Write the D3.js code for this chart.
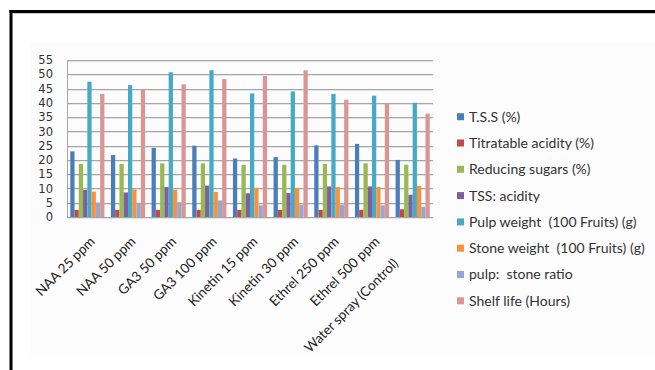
<!DOCTYPE html>
<html>
<head>
<meta charset="utf-8">
<script src="https://cdn.jsdelivr.net/npm/d3@7"></script>
<style>
  html, body { margin: 0; padding: 0; background: #ffffff; }
  svg { display: block; }
  text { white-space: pre; }
</style>
</head>
<body>
<script>
// Treatments applied to the fruit trees
const categories = ["NAA 25 ppm", "NAA 50 ppm", "GA3 50 ppm", "GA3 100 ppm", "Kinetin 15 ppm",
  "Kinetin 30 ppm", "Ethrel 250 ppm", "Ethrel 500 ppm", "Water spray (Control)"];

// Measured quality attributes (one series per attribute)
const seriesNames = ["T.S.S (%)", "Titratable acidity (%)", "Reducing sugars (%)", "TSS: acidity",
  "Pulp weight  (100 Fruits) (g)", "Stone weight  (100 Fruits) (g)", "pulp:  stone ratio", "Shelf life (Hours)"];

const tss        = [23.0, 21.7, 24.2, 25.0, 20.5, 21.0, 25.1, 25.6, 20.0];
const acidity    = [2.5, 2.5, 2.5, 2.5, 2.5, 2.5, 2.5, 2.5, 2.7];
const sugars     = [18.6, 18.6, 18.8, 18.8, 18.2, 18.3, 18.6, 18.8, 18.3];
const tssAcidity = [9.5, 8.6, 10.5, 11.0, 8.3, 8.4, 10.7, 10.7, 7.8];
const pulpWeight = [47.4, 46.2, 50.7, 51.4, 43.3, 44.0, 43.1, 42.5, 40.0];
const stoneWeight= [8.9, 9.7, 9.5, 8.8, 10.2, 10.2, 10.5, 10.5, 10.9];
const pulpStone  = [5.1, 5.0, 5.2, 5.8, 4.1, 4.3, 4.3, 4.1, 3.6];
const shelfLife  = [43.1, 44.5, 46.5, 48.3, 49.4, 51.4, 41.1, 39.6, 36.2];

const yTicks = [0, 5, 10, 15, 20, 25, 30, 35, 40, 45, 50, 55];

const seriesValues = [tss, acidity, sugars, tssAcidity, pulpWeight, stoneWeight, pulpStone, shelfLife];
const colors = ["#4a7ebb", "#be4b48", "#98b954", "#7d60a0", "#46aac5", "#f69240", "#93a9d4", "#d99694"];

const W = 655, H = 370;
const plot = { left: 67, right: 433, top: 60, bottom: 217 };

const svg = d3.select("body").append("svg").attr("width", W).attr("height", H);

// chart area background and frame
svg.append("rect").attr("x", 30).attr("y", 42).attr("width", W - 30).attr("height", 313).attr("fill", "#fcfcfc");
svg.append("line").attr("x1", 11).attr("x2", W).attr("y1", 13.5).attr("y2", 13.5)
  .attr("stroke", "#c8c8c8").attr("stroke-width", 1);
svg.append("line").attr("x1", 9.5).attr("x2", W).attr("y1", 11.5).attr("y2", 11.5)
  .attr("stroke", "#000").attr("stroke-width", 3);
svg.append("line").attr("x1", 11).attr("x2", 11).attr("y1", 10).attr("y2", H)
  .attr("stroke", "#000").attr("stroke-width", 3);

const x = d3.scaleBand().domain(categories).range([plot.left, plot.right])
  .paddingInner(0.16).paddingOuter(0.08);
const xs = d3.scaleBand().domain(d3.range(seriesNames.length)).range([0, x.bandwidth()]);
const y = d3.scaleLinear().domain([0, 55]).range([plot.bottom, plot.top]);

// horizontal gridlines
const grid = svg.append("g");
yTicks.forEach(t => {
  if (t === 0) return;
  grid.append("line").attr("x1", plot.left).attr("x2", plot.right)
    .attr("y1", Math.round(y(t)) + 1.5).attr("y2", Math.round(y(t)) + 1.5)
    .attr("stroke", "#e4e4e4").attr("stroke-width", 1);
  grid.append("line").attr("x1", plot.left).attr("x2", plot.right)
    .attr("y1", Math.round(y(t)) + 0.5).attr("y2", Math.round(y(t)) + 0.5)
    .attr("stroke", "#a6a6a6").attr("stroke-width", 1);
});

// bars
const groups = svg.append("g").selectAll("g").data(categories).join("g")
  .attr("transform", c => `translate(${x(c)},0)`);
groups.selectAll("rect").data((c, i) => seriesValues.map((s, k) => ({ k, v: s[i] }))).join("rect")
  .attr("x", d => xs(d.k))
  .attr("width", xs.bandwidth())
  .attr("y", d => y(d.v))
  .attr("height", d => y(0) - y(d.v))
  .attr("fill", d => colors[d.k]);

// axes lines
svg.append("line").attr("x1", plot.left + 0.5).attr("x2", plot.left + 0.5)
  .attr("y1", y(55)).attr("y2", y(0)).attr("stroke", "#a6a6a6");
svg.append("line").attr("x1", plot.left).attr("x2", plot.right)
  .attr("y1", Math.round(y(0)) + 0.5).attr("y2", Math.round(y(0)) + 0.5).attr("stroke", "#a6a6a6");
svg.append("line").attr("x1", plot.left).attr("x2", plot.right)
  .attr("y1", Math.round(y(0)) + 1.5).attr("y2", Math.round(y(0)) + 1.5).attr("stroke", "#e4e4e4");

// y axis labels
const yAxis = d3.axisLeft(y).tickValues(yTicks).tickSize(0).tickPadding(14);
const ya = svg.append("g").attr("transform", `translate(${plot.left},0)`).call(yAxis);
ya.select(".domain").remove();
ya.selectAll("text").attr("font-family", "DejaVu Sans").attr("font-size", 11.5).attr("fill", "#333");

// x axis labels, rotated; the long control label sits a little further down its slope
svg.append("g").selectAll("text").data(categories).join("text")
  .attr("transform", c => `translate(${x(c) + x.bandwidth() / 2 + 5},${plot.bottom + 22}) rotate(-45)`)
  .attr("text-anchor", "end").attr("dy", "0.35em")
  .attr("dx", (c, i) => i === categories.length - 1 ? -31 : 0)
  .attr("font-family", "Lato").attr("font-size", 13.5).attr("fill", "#222")
  .text(c => c);

// legend
const legend = svg.append("g").selectAll("g").data(seriesNames).join("g")
  .attr("transform", (d, i) => `translate(457,${116.7 + i * 26.3})`);
legend.append("rect").attr("x", 0).attr("y", -3.5).attr("width", 7).attr("height", 7)
  .attr("fill", (d, i) => colors[i]);
legend.append("text").attr("x", 12).attr("dy", "0.35em")
  .attr("font-family", "Lato").attr("font-size", 14).attr("fill", "#333")
  .text(d => d);
</script>
</body>
</html>
